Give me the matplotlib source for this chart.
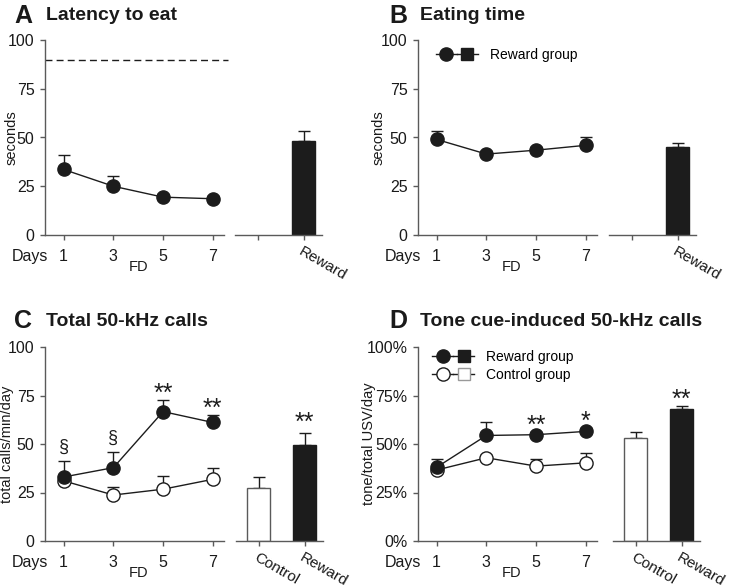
import matplotlib
matplotlib.use("Agg")
import matplotlib.pyplot as plt
from matplotlib.lines import Line2D
from matplotlib.legend_handler import HandlerTuple
from matplotlib.ticker import PercentFormatter

plt.rcParams['font.family'] = ['Liberation Sans', 'DejaVu Sans']

# ---- data ----
days = [1, 3, 5, 7]
groups = ['Control', 'Reward']

# A: latency to eat (seconds)
lat_reward = [33.6, 25.0, 19.4, 18.6]
lat_reward_sem = [7.4, 5.2, 1.5, 1.5]
lat_bar = [48.3]
lat_bar_sem = [5.0]
lat_cutoff = 90

# B: eating time (seconds)
eat_reward = [49.0, 41.5, 43.5, 46.0]
eat_reward_sem = [4.5, 1.5, 1.5, 4.5]
eat_bar = [45.0]
eat_bar_sem = [2.0]

# C: total 50-kHz calls (calls/min/day)
tot_reward = [33.0, 37.8, 66.7, 61.1]
tot_reward_sem = [8.2, 8.0, 5.9, 3.9]
tot_control = [31.0, 23.7, 26.7, 31.8]
tot_control_sem = [1.5, 3.9, 6.8, 5.6]
tot_bars = [27.5, 49.7]
tot_bars_sem = [5.5, 6.1]

# D: tone cue-induced calls (% of total)
tone_reward = [38.0, 54.4, 54.8, 56.5]
tone_reward_sem = [4.5, 6.8, 1.5, 1.5]
tone_control = [36.6, 42.9, 38.6, 40.3]
tone_control_sem = [1.5, 1.5, 3.9, 5.1]
tone_bars = [53.0, 68.0]
tone_bars_sem = [3.0, 1.5]

DARK = '#1c1c1c'
SPINE = '#5a5a5a'
W, H = 734, 588

fig = plt.figure(figsize=(W / 100, H / 100), dpi=100)


def px_axes(left, top, right, bottom):
    return fig.add_axes([left / W, 1 - bottom / H, (right - left) / W, (bottom - top) / H])


def style(ax, left_spine=True):
    for s in ['top', 'right']:
        ax.spines[s].set_visible(False)
    ax.spines['left'].set_visible(left_spine)
    for s in ['left', 'bottom']:
        ax.spines[s].set_color(SPINE)
        ax.spines[s].set_linewidth(1.0)
    ax.tick_params(direction='out', length=3.5, width=1, color=SPINE,
                   labelsize=11.5, labelcolor='#1a1a1a')
    ax.tick_params(axis='x', pad=6.5)
    ax.tick_params(axis='y', pad=4)
    ax.set_ylim(0, 100)
    ax.set_yticks([0, 25, 50, 75, 100])
    ax.patch.set_alpha(0)


def line_panel(ax, ylabel, label_x, series):
    style(ax)
    for vals, sem, face in series:
        ax.errorbar(days, vals, yerr=[[0] * len(sem), sem], color=DARK, lw=1.0,
                    elinewidth=1.0, capsize=4, capthick=1.0, zorder=2)
        ax.plot(days, vals, 'o', ms=9.5, mfc=face, mec=DARK, mew=1.0, zorder=3)
    ax.set_xlim(0.25, 7.45)
    ax.set_xticks(days)
    ax.set_xticklabels([str(d) for d in days])
    ax.set_ylabel(ylabel, fontsize=10.5, color='#1a1a1a')
    ax.yaxis.set_label_coords(label_x, 0.5)
    ax.text(-0.085, -0.11, 'Days', transform=ax.transAxes, fontsize=11.5,
            ha='center', va='center', color='#1a1a1a')
    ax.text(0.52, -0.165, 'FD', transform=ax.transAxes, fontsize=10.5,
            ha='center', va='center', color='#1a1a1a')


def bar_panel(ax, labels, vals, sem, faces, edges):
    style(ax, left_spine=False)
    ax.tick_params(axis='y', left=False, labelleft=False)
    ax.tick_params(axis='x', pad=3)
    pos = [0, 1][-len(vals):]
    ax.bar(pos, vals, width=0.5, color=faces, edgecolor=edges, lw=1.0, zorder=2)
    ax.errorbar(pos, vals, yerr=[[0] * len(sem), sem], fmt='none', ecolor=DARK,
                elinewidth=1.0, capsize=4, capthick=1.0, zorder=1)
    ax.set_xlim(-0.5, 1.4)
    ax.set_xticks([0, 1])
    ax.set_xticklabels(labels, rotation=-30, ha='left', rotation_mode='anchor',
                       fontsize=11)


def title(x_letter, x_text, y, letter, text):
    fig.text(x_letter / W, 1 - y / H, letter, fontsize=18, fontweight='bold',
             ha='left', va='center', color='#1a1a1a')
    fig.text(x_text / W, 1 - y / H, text, fontsize=14, fontweight='bold',
             ha='left', va='center', color='#1a1a1a')


def stars(ax, x, y, s, size=18, dy=-0.5):
    ax.annotate(s, (x, y), xytext=(0, dy), textcoords='offset points',
                ha='center', va='baseline', fontsize=size, color=DARK)


handler = {tuple: HandlerTuple(ndivide=None, pad=0)}
h_rew = (Line2D([], [], color=DARK, lw=1, marker='o', ms=9.5, mfc=DARK, mec=DARK),
         Line2D([], [], color=DARK, lw=1, marker='s', ms=9, mfc=DARK, mec=DARK))
h_con = (Line2D([], [], color=DARK, lw=1, marker='o', ms=9.5, mfc='white', mec=DARK),
         Line2D([], [], color=DARK, lw=1, marker='s', ms=9, mfc='white', mec='#999999'))

# ---- panel A ----
axA = px_axes(45, 40, 224, 235)
line_panel(axA, 'seconds', -0.15, [(lat_reward, lat_reward_sem, DARK)])
axA.axhline(lat_cutoff, color=DARK, lw=1.0, ls=(0, (5, 3)), xmin=0, xmax=1.02,
            clip_on=False)
axAb = px_axes(235, 40, 322, 235)
bar_panel(axAb, ['', 'Reward'], lat_bar, lat_bar_sem, [DARK], [DARK])
title(14, 46, 16, 'A', 'Latency to eat')

# ---- panel B ----
axB = px_axes(418, 40, 597, 235)
line_panel(axB, 'seconds', -0.184, [(eat_reward, eat_reward_sem, DARK)])
axBb = px_axes(609, 40, 696, 235)
bar_panel(axBb, ['', 'Reward'], eat_bar, eat_bar_sem, [DARK], [DARK])
title(389, 420, 16, 'B', 'Eating time')
axB.legend([h_rew], ['Reward group'], handler_map=handler,
           loc='upper left', bbox_to_anchor=(0.03, 1.025), frameon=False, fontsize=10,
           handlelength=3.0, handletextpad=0.9)

# ---- panel C ----
axC = px_axes(45, 347, 224, 541)
line_panel(axC, 'total calls/min/day', -0.173,
           [(tot_control, tot_control_sem, 'white'), (tot_reward, tot_reward_sem, DARK)])
axCb = px_axes(236, 347, 323, 541)
bar_panel(axCb, groups, tot_bars, tot_bars_sem, ['white', DARK], [SPINE, DARK])
title(14, 46, 321, 'C', 'Total 50-kHz calls')
for i in range(2):
    stars(axC, days[i], tot_reward[i] + tot_reward_sem[i], '§', size=13, dy=7)
for i in range(2, 4):
    stars(axC, days[i], tot_reward[i] + tot_reward_sem[i], '**')
stars(axCb, 1, tot_bars[1] + tot_bars_sem[1], '**', dy=2)

# ---- panel D ----
axD = px_axes(418, 347, 597, 541)
line_panel(axD, 'tone/total USV/day', -0.235,
           [(tone_control, tone_control_sem, 'white'), (tone_reward, tone_reward_sem, DARK)])
axD.yaxis.set_major_formatter(PercentFormatter(100, decimals=0))
axDb = px_axes(613, 347, 700, 541)
bar_panel(axDb, groups, tone_bars, tone_bars_sem, ['white', DARK], [SPINE, DARK])
title(389, 420, 321, 'D', 'Tone cue-induced 50-kHz calls')
stars(axD, days[2], tone_reward[2] + tone_reward_sem[2], '**')
stars(axD, days[3], tone_reward[3] + tone_reward_sem[3], '*')
stars(axDb, 1, tone_bars[1] + tone_bars_sem[1], '**')
axD.legend([h_rew, h_con], ['Reward group', 'Control group'], handler_map=handler,
           loc='upper left', bbox_to_anchor=(0.01, 1.05), frameon=False, fontsize=10,
           handlelength=3.0, handletextpad=0.9, labelspacing=0.3)

fig.savefig('out.png', dpi=100)
